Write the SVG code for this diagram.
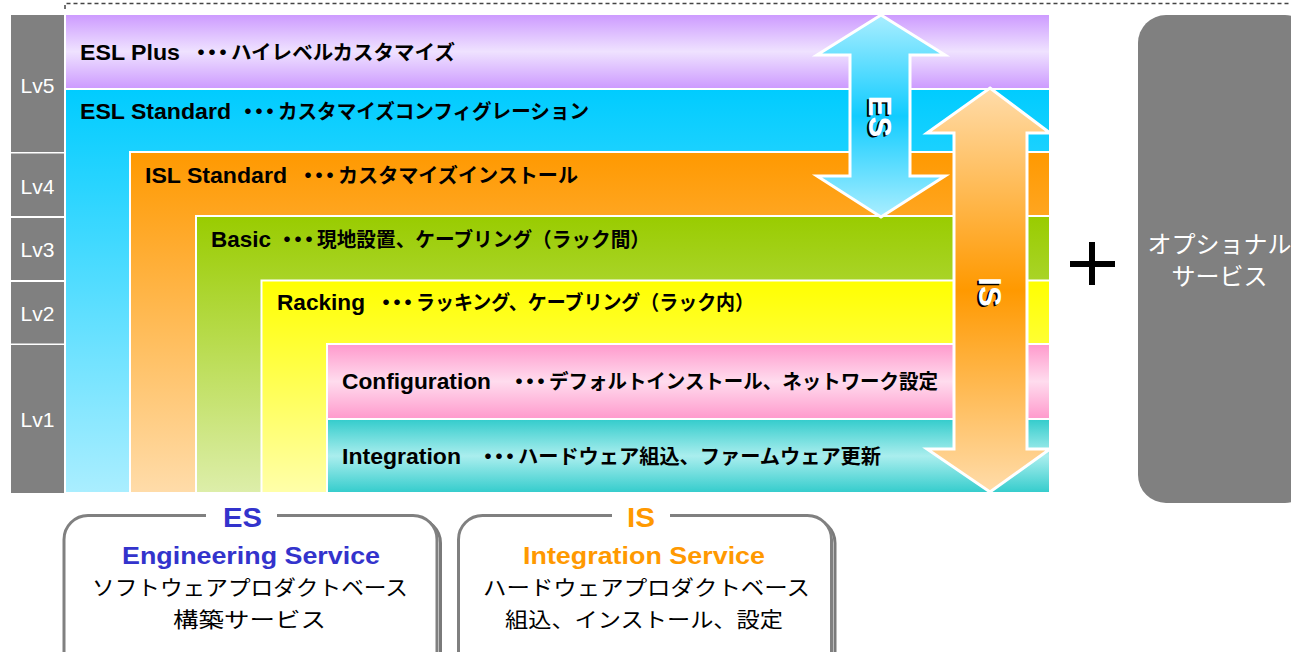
<svg xmlns="http://www.w3.org/2000/svg" width="1291" height="652" viewBox="0 0 1291 652">
<defs>
<linearGradient id="gPurple" x1="0" y1="0" x2="0" y2="1"><stop offset="0" stop-color="#cc99ff"/><stop offset="0.5" stop-color="#efe2ff"/><stop offset="1" stop-color="#cc99ff"/></linearGradient>
<linearGradient id="gCyan" x1="0" y1="0" x2="0" y2="1"><stop offset="0" stop-color="#00ccff"/><stop offset="1" stop-color="#aaeeff"/></linearGradient>
<linearGradient id="gOrange" x1="0" y1="0" x2="0" y2="1"><stop offset="0" stop-color="#ff9900"/><stop offset="1" stop-color="#ffdcaa"/></linearGradient>
<linearGradient id="gGreen" x1="0" y1="0" x2="0" y2="1"><stop offset="0" stop-color="#99cc00"/><stop offset="1" stop-color="#ddeeaa"/></linearGradient>
<linearGradient id="gYellow" x1="0" y1="0" x2="0" y2="1"><stop offset="0" stop-color="#ffff00"/><stop offset="1" stop-color="#ffffaa"/></linearGradient>
<linearGradient id="gPink" x1="0" y1="0" x2="0" y2="1"><stop offset="0" stop-color="#ff99cc"/><stop offset="0.5" stop-color="#ffdcee"/><stop offset="1" stop-color="#ff99cc"/></linearGradient>
<linearGradient id="gTeal" x1="0" y1="0" x2="0" y2="1"><stop offset="0" stop-color="#33cccc"/><stop offset="0.5" stop-color="#aaeeee"/><stop offset="1" stop-color="#33cccc"/></linearGradient>
<linearGradient id="gES" x1="0" y1="0" x2="0" y2="1"><stop offset="0" stop-color="#aaeeff"/><stop offset="0.5" stop-color="#11ccff"/><stop offset="1" stop-color="#aaeeff"/></linearGradient>
<linearGradient id="gIS" x1="0" y1="0" x2="0" y2="1"><stop offset="0" stop-color="#ffdcaa"/><stop offset="0.5" stop-color="#ff9900"/><stop offset="1" stop-color="#ffdcaa"/></linearGradient>
</defs>
<style>
.band{stroke:#ffffff;stroke-width:2}
.lv{fill:#808080}
.lvt{font-family:"Liberation Sans",Arial,sans-serif;font-size:21px;fill:#ffffff;text-anchor:middle}
.lat{font-family:"Liberation Sans",Arial,"Noto Sans CJK JP",sans-serif;font-weight:bold;font-size:22px;fill:#000000}
.jp{font-family:"Noto Sans CJK JP","Liberation Sans",sans-serif;font-weight:bold;font-size:20px;fill:#000000}
.dots{font-family:"Noto Sans CJK JP",sans-serif;font-weight:bold;font-size:22px;letter-spacing:-11px;fill:#000000}
.arrow{stroke:#ffffff;stroke-width:3;stroke-linejoin:miter}
.at{font-family:"Liberation Sans",Arial,sans-serif;font-weight:bold;font-size:31px;text-anchor:middle}
.box{fill:#ffffff;stroke:#808080;stroke-width:3}
.shadow{fill:none;stroke:#7a7a7a;stroke-width:3}
.ttl{font-family:"Liberation Sans",Arial,sans-serif;font-weight:bold;font-size:27px}
.sub{font-family:"Liberation Sans",Arial,sans-serif;font-weight:bold;font-size:24px}
.bjp{font-family:"Noto Sans CJK JP",sans-serif;font-size:21px;fill:#000000}
.opt{font-family:"Noto Sans CJK JP",sans-serif;font-size:24px;fill:#ffffff;text-anchor:middle}
.blue{fill:#3333cc}
.orange{fill:#ff9900}
</style>

<path d="M65,9 V3.5 H1291" fill="none" stroke="#444444" stroke-width="1.5" stroke-dasharray="4,3"/>

<g id="levels">
<rect class="lv" x="11" y="15" width="53" height="137"/>
<rect class="lv" x="11" y="153.5" width="53" height="62.5"/>
<rect class="lv" x="11" y="218" width="53" height="62"/>
<rect class="lv" x="11" y="282" width="53" height="61.5"/>
<rect class="lv" x="11" y="345" width="53" height="148"/>
<text class="lvt" x="37.5" y="93">Lv5</text>
<text class="lvt" x="37.5" y="194">Lv4</text>
<text class="lvt" x="37.5" y="257">Lv3</text>
<text class="lvt" x="37.5" y="321">Lv2</text>
<text class="lvt" x="37.5" y="427">Lv1</text>
</g>

<g id="esl-plus">
<rect class="band" x="65" y="14" width="985" height="75" fill="url(#gPurple)"/>
<text class="lat" x="80" y="60" textLength="100" lengthAdjust="spacingAndGlyphs">ESL Plus</text>
<text class="dots" x="190" y="60">・・・</text>
<text class="jp" x="231" y="60" textLength="224" lengthAdjust="spacingAndGlyphs">ハイレベルカスタマイズ</text>
</g>

<g id="esl-standard">
<rect class="band" x="65" y="89" width="985" height="404" fill="url(#gCyan)"/>
<text class="lat" x="80" y="119" textLength="151" lengthAdjust="spacingAndGlyphs">ESL Standard</text>
<text class="dots" x="237" y="119">・・・</text>
<text class="jp" x="278" y="119" textLength="311" lengthAdjust="spacingAndGlyphs">カスタマイズコンフィグレーション</text>
</g>

<g id="isl-standard">
<rect class="band" x="130" y="152" width="920" height="341" fill="url(#gOrange)"/>
<text class="lat" x="145" y="183" textLength="142" lengthAdjust="spacingAndGlyphs">ISL Standard</text>
<text class="dots" x="297" y="183">・・・</text>
<text class="jp" x="338" y="183" textLength="240" lengthAdjust="spacingAndGlyphs">カスタマイズインストール</text>
</g>

<g id="basic">
<rect class="band" x="196" y="216" width="854" height="277" fill="url(#gGreen)"/>
<text class="lat" x="211" y="247" textLength="60" lengthAdjust="spacingAndGlyphs">Basic</text>
<text class="dots" x="276" y="247">・・・</text>
<text class="jp" x="317" y="247" textLength="333" lengthAdjust="spacingAndGlyphs">現地設置、ケーブリング（ラック間）</text>
</g>

<g id="racking">
<rect class="band" x="261.5" y="280.5" width="788.5" height="212.5" fill="url(#gYellow)"/>
<text class="lat" x="277" y="310" textLength="88" lengthAdjust="spacingAndGlyphs">Racking</text>
<text class="dots" x="375" y="310">・・・</text>
<text class="jp" x="416" y="310" textLength="338" lengthAdjust="spacingAndGlyphs">ラッキング、ケーブリング（ラック内）</text>
</g>

<g id="configuration">
<rect class="band" x="327" y="344" width="723" height="75" fill="url(#gPink)"/>
<text class="lat" x="342" y="389" textLength="149" lengthAdjust="spacingAndGlyphs">Configuration</text>
<text class="dots" x="508" y="389">・・・</text>
<text class="jp" x="549" y="389" textLength="389" lengthAdjust="spacingAndGlyphs">デフォルトインストール、ネットワーク設定</text>
</g>

<g id="integration">
<rect class="band" x="327" y="419" width="723" height="74" fill="url(#gTeal)"/>
<text class="lat" x="342" y="464" textLength="119" lengthAdjust="spacingAndGlyphs">Integration</text>
<text class="dots" x="477" y="464">・・・</text>
<text class="jp" x="518" y="464" textLength="363" lengthAdjust="spacingAndGlyphs">ハードウェア組込、ファームウェア更新</text>
</g>

<g id="connectors">
<g id="es-arrow">
<polygon class="arrow" fill="url(#gES)" points="881,15 945,55 910,55 910,176 945,176 881,217 817,176 850,176 850,55 817,55"/>
<text class="at" transform="translate(867,118) rotate(90)" fill="#000000">ES</text>
<text class="at" transform="translate(869,116.5) rotate(90)" fill="#ffffff">ES</text>
</g>
<g id="is-arrow">
<polygon class="arrow" fill="url(#gIS)" points="990,88 1050,133 1027,133 1027,449 1050,449 990,492 927,449 954,449 954,133 927,133"/>
<text class="at" transform="translate(977,293.5) rotate(90)" fill="#000000">IS</text>
<text class="at" transform="translate(979,292) rotate(90)" fill="#ffffff">IS</text>
</g>
</g>

<g id="plus">
<path d="M1070,264 H1115 M1092,242 V285" stroke="#000000" stroke-width="6" fill="none"/>
</g>

<g id="optional-service">
<rect x="1138" y="15" width="175" height="488" rx="28" ry="28" fill="#808080"/>
<text class="opt" x="1219.5" y="253">オプショナル</text>
<text class="opt" x="1219.5" y="285">サービス</text>
</g>

<g id="es-box">
<rect class="shadow" x="67.5" y="519" width="373" height="170" rx="24" ry="24"/>
<rect class="box" x="64" y="515.5" width="373" height="170" rx="24" ry="24"/>
<rect x="206" y="510" width="71" height="10" fill="#ffffff"/>
<text class="ttl blue" x="223" y="527" textLength="39" lengthAdjust="spacingAndGlyphs">ES</text>
<text class="sub blue" x="122" y="564" textLength="258" lengthAdjust="spacingAndGlyphs">Engineering Service</text>
<text class="bjp" x="92" y="595" textLength="316" lengthAdjust="spacingAndGlyphs">ソフトウェアプロダクトベース</text>
<text class="bjp" x="173" y="627" textLength="153" lengthAdjust="spacingAndGlyphs">構築サービス</text>
</g>

<g id="is-box">
<rect class="shadow" x="462" y="519" width="373" height="170" rx="24" ry="24"/>
<rect class="box" x="458.5" y="515.5" width="373" height="170" rx="24" ry="24"/>
<rect x="612" y="510" width="58" height="10" fill="#ffffff"/>
<text class="ttl orange" x="627" y="527" textLength="28" lengthAdjust="spacingAndGlyphs">IS</text>
<text class="sub orange" x="523" y="564" textLength="242" lengthAdjust="spacingAndGlyphs">Integration Service</text>
<text class="bjp" x="483" y="595" textLength="327" lengthAdjust="spacingAndGlyphs">ハードウェアプロダクトベース</text>
<text class="bjp" x="505" y="627" textLength="278" lengthAdjust="spacingAndGlyphs">組込、インストール、設定</text>
</g>
</svg>
